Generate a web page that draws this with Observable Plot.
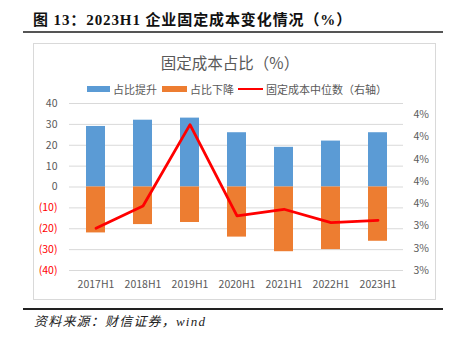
<!DOCTYPE html>
<html><head><meta charset="utf-8">
<script src="https://cdn.jsdelivr.net/npm/d3@7"></script>
<script src="https://cdn.jsdelivr.net/npm/@observablehq/plot@0.6"></script>
<style>
body{margin:0;background:#fff;}
#wrap{position:relative;width:450px;height:338px;overflow:hidden;font-family:"Noto Sans CJK SC","Microsoft YaHei",sans-serif;color:#595959;}
.abs{position:absolute;white-space:nowrap;}
#wrap svg{position:absolute;left:0;top:0;}
</style></head><body>
<div id="wrap">
  <div class="abs" style="left:33px;top:43px;width:401px;height:255px;border:1px solid #d9d9d9;"></div>
  <div class="abs" id="title" style="left:33px;top:10px;font-size:15px;font-weight:bold;letter-spacing:0.9px;color:#111;font-family:'Liberation Serif','Noto Sans CJK SC',serif;line-height:20px;"></div>
  <div class="abs" style="left:23px;top:31px;width:420px;height:2px;background:#555;"></div>
  <div class="abs" id="ctitle" style="left:0;width:460px;text-align:center;top:52px;font-size:15.5px;line-height:20px;color:#595959;"></div>
  <div class="abs" id="legend" style="left:0;top:82px;height:14px;font-size:11px;line-height:14px;width:450px;"></div>
  <div class="abs" style="left:23px;top:308px;width:420px;height:1.5px;background:#222;"></div>
  <div class="abs" id="source" style="left:34px;top:313px;font-size:13px;line-height:18px;letter-spacing:1.2px;font-style:italic;color:#222;font-family:'Liberation Serif','Noto Sans CJK SC',serif;"></div>
</div>
<script>
const titleText = "图 13：2023H1 企业固定成本变化情况（%）";
const chartTitle = "固定成本占比（%）";
const sourceText = "资料来源：财信证券，wind";
const seriesNames = ["占比提升", "占比下降", "固定成本中位数（右轴）"];
const seriesColors = ["#5B9BD5", "#ED7D31", "#FF0000"];

const periods = ["2017H1", "2018H1", "2019H1", "2020H1", "2021H1", "2022H1", "2023H1"];
const riseValues = [29, 32, 33, 26, 19, 22, 26];
const fallValues = [-22, -18, -17, -24, -31, -30, -26];
const medianValues = [3.38, 3.58, 4.31, 3.49, 3.55, 3.43, 3.45];

const leftTicks = [-40, -30, -20, -10, 0, 10, 20, 30, 40];
const leftTickLabels = ["(40)", "(30)", "(20)", "(10)", "0", "10", "20", "30", "40"];
const rightDomain = [3.0, 4.5];
const rightTicks = [3.0, 3.2, 3.4, 3.6, 3.8, 4.0, 4.2, 4.4];
const rightTickLabels = ["3%", "3%", "3%", "4%", "4%", "4%", "4%", "4%"];

const rows = periods.map((p, i) => ({period: p, rise: riseValues[i], fall: fallValues[i], median: medianValues[i]}));

document.getElementById("title").textContent = titleText;
document.getElementById("ctitle").textContent = chartTitle;
document.getElementById("source").textContent = sourceText;

// legend
const legend = document.getElementById("legend");
const legendItems = [
  {x: 87, w: 23, h: 6, tx: 113},
  {x: 162, w: 25, h: 6, tx: 190},
  {x: 238, w: 25, h: 2.5, tx: 266}
];
legendItems.forEach((it, i) => {
  const sw = document.createElement("div");
  sw.className = "abs";
  sw.style.cssText = `left:${it.x}px;top:${7 - it.h / 2}px;width:${it.w}px;height:${it.h}px;background:${seriesColors[i]};`;
  legend.appendChild(sw);
  const t = document.createElement("div");
  t.className = "abs";
  t.style.cssText = `left:${it.tx}px;top:0;`;
  t.textContent = seriesNames[i];
  legend.appendChild(t);
});

const common = {
  width: 450, height: 338,
  marginLeft: 69, marginRight: 47, marginTop: 103, marginBottom: 68,
  x: {type: "band", domain: periods, paddingInner: 0.6, paddingOuter: 0.3, axis: null},
  style: {background: "transparent", fontFamily: "'Noto Sans CJK SC', sans-serif", fontSize: "10.5px", color: "#595959"}
};
const leftLabel = v => leftTickLabels[leftTicks.indexOf(v)];

const bars = Plot.plot({
  ...common,
  y: {domain: [-40, 40], axis: null},
  marks: [
    Plot.gridY(leftTicks, {stroke: "#d9d9d9", strokeOpacity: 1, strokeWidth: 1}),
    Plot.barY(rows, {x: "period", y: "rise", fill: seriesColors[0]}),
    Plot.barY(rows, {x: "period", y: "fall", fill: seriesColors[1]}),
    Plot.axisX({tickSize: 0, tickPadding: 10, fill: "#595959", label: null}),
    Plot.axisY(leftTicks.filter(v => v >= 0), {tickSize: 0, tickPadding: 12, tickFormat: leftLabel, fill: "#595959", label: null}),
    Plot.axisY(leftTicks.filter(v => v < 0), {tickSize: 0, tickPadding: 12, tickFormat: leftLabel, fill: "#FF0000", label: null})
  ]
});

const line = Plot.plot({
  ...common,
  y: {domain: rightDomain, axis: null},
  marks: [
    Plot.line(rows, {x: "period", y: "median", stroke: seriesColors[2], strokeWidth: 2.8}),
    Plot.axisY(rightTicks, {anchor: "right", tickSize: 0, tickPadding: 10, tickFormat: v => rightTickLabels[rightTicks.indexOf(v)], fill: "#595959", label: null})
  ]
});

const wrap = document.getElementById("wrap");
wrap.appendChild(bars);
wrap.appendChild(line);
</script>
</body></html>
